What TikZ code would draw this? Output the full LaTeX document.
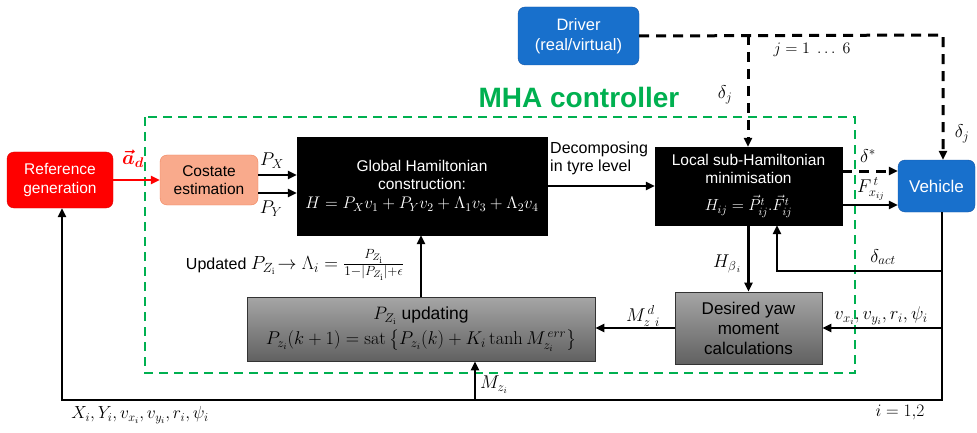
\documentclass[tikz,border=0pt]{standalone}
\usepackage{fix-cm}
\usepackage{amsmath}
\usepackage[no-math]{fontspec}
\setmainfont{Liberation Sans}
\usetikzlibrary{arrows.meta,calc}

\definecolor{refred}{RGB}{255,0,0}
\definecolor{costfill}{RGB}{249,170,140}
\definecolor{costedge}{RGB}{240,130,90}
\definecolor{blockblue}{RGB}{24,112,204}
\definecolor{blueedge}{RGB}{20,85,165}
\definecolor{mhagreen}{RGB}{0,176,80}

% math at a larger size than the surrounding sans text
\newcommand{\bigmath}[2][18.5]{{\fontsize{#1}{20}\selectfont$#2$}}

\tikzset{
  blk/.style={draw, inner sep=2pt, align=center, font=\fontsize{15.5}{18}\selectfont},
  roundblk/.style={blk, rounded corners=7pt},
  blackblk/.style={blk, fill=black, draw=black, text=white},
  grayblk/.style={blk, draw=black!80, line width=0.8pt, top color=black!35, bottom color=black!62, text=black},
  tip/.style={-{Triangle[length=9pt,width=8pt]}},
  arr/.style={line width=2.6pt, tip},
  dsh/.style={line width=3pt, dash pattern=on 10pt off 7pt, tip},
  lbl/.style={font=\fontsize{18.5}{20}\selectfont, inner sep=1pt},
}

\begin{document}
\begin{tikzpicture}[x=1pt,y=-1pt]
\useasboundingbox (0,0) rectangle (977,433);

% controller frame
\draw[mhagreen, line width=2.2pt, dash pattern=on 9pt off 6pt] (145,117) rectangle (855,373);
\node[font=\fontsize{28}{30}\selectfont\bfseries, text=mhagreen] (mha) at (579,97) {MHA controller};

% blocks
\node[roundblk, fill=refred, draw=red!85!black, text=white, minimum width=106pt, minimum height=56pt] (ref) at (60,180) {Reference\\generation};
\node[roundblk, fill=costfill, draw=costedge, minimum width=98pt, minimum height=50pt] (cost) at (209,180) {Costate\\estimation};
\node[blackblk, minimum width=250pt, minimum height=98pt] (glob) at (422,186)
  {Global Hamiltonian\\construction:\\[1pt]\bigmath[16.8]{H = P_X v_1 + P_Y v_2 + \Lambda_1 v_3 + \Lambda_2 v_4}};
\node[blackblk, minimum width=187pt, minimum height=78pt] (loc) at (748.5,186)
  {Local sub-Hamiltonian\\minimisation\\[9pt]\bigmath[16]{H_{ij} = \vec{P}^t_{ij}.\vec{F}^t_{ij}}};
\node[roundblk, fill=blockblue, draw=blueedge, text=white, minimum width=77pt, minimum height=52pt, font=\fontsize{17}{20}\selectfont] (veh) at (936.5,186) {Vehicle};
\node[roundblk, fill=blockblue, draw=blueedge, text=white, minimum width=121pt, minimum height=58pt, font=\fontsize{16.5}{20}\selectfont] (drv) at (578.5,36) {Driver\\(real/virtual)};
\node[grayblk, minimum width=147pt, minimum height=72pt, font=\fontsize{17}{20}\selectfont] (des) at (748.5,328) {Desired yaw\\moment\\calculations};
\node[grayblk, minimum width=348pt, minimum height=64pt, font=\fontsize{17.5}{20}\selectfont] (pz) at (421,329)
  {\bigmath[18]{P_{Z_\mathrm{i}}} updating\\[5pt]\bigmath[18.5]{P_{z_i}(k+1) = \mathrm{sat}\left\{P_{z_i}(k) + K_i \tanh M_{z_i}^{\,err}\right\}}};

% routing points
\coordinate (dj) at (748,35);
\coordinate (dc) at (943,35);
\coordinate (rb) at (942,400);
\coordinate (lb) at (62,400);
\coordinate (da) at (777,271);
\coordinate (mz) at (475,400);
\coordinate (px) at (258,175);
\coordinate (py) at (258,193);
\coordinate (ds) at (842,171);
\coordinate (fx) at (842,205);

% forward path
\draw[arr, red] (ref.east) -- (cost.west);
\draw[arr] (px) -- (px -| glob.west);
\draw[arr] (py) -- (py -| glob.west);
\draw[arr] (glob.east) -- (loc.west);
\draw[dsh] (ds) -- (ds -| veh.west);
\draw[arr] (fx) -- (fx -| veh.west);

% driver inputs
\draw[dsh] (drv.east) -- (dc) -- (dc |- veh.north);
\draw[dsh] (dj) -- (dj |- loc.north);

% feedback paths
\draw[arr] (rb |- veh.south) -- (rb) -- (lb) -- (lb |- ref.south);
\draw[arr] (rb |- da) -- (da) -- (da |- loc.south);
\draw[arr] (loc.south) -- (des.north);
\draw[arr] (rb |- des.east) -- (des.east);
\draw[arr] (des.west) -- (des.west -| pz.east);
\draw[arr] (pz.north) -- (pz.north |- glob.south);
\draw[arr] (mz) -- (mz |- pz.south);

% signal labels
\node[lbl, text=red, font=\fontsize{20}{22}\selectfont] (lad) at (133,159) {$\boldsymbol{\vec{a}_d}$};
\node[lbl] (lpx) at (272,161) {$P_X$};
\node[lbl] (lpy) at (271,209) {$P_Y$};
\node[lbl, font=\fontsize{16}{18}\selectfont, align=left, anchor=west] (ldec) at (549,158) {Decomposing\\in tyre level};
\node[lbl] (lds) at (868,156) {$\delta^*$};
\node[lbl] (lfx) at (871,189) {$F^{\,t}_{x_{ij}}$};
\node[lbl] (ldj) at (725,95) {$\delta_j$};
\node[lbl] (ldj2) at (962,134) {$\delta_j$};
\node[lbl, font=\fontsize{16}{18}\selectfont] (ljj) at (812,50) {$j = 1\ \dots\ 6$};
\node[lbl] (lact) at (883,257) {$\delta_{act}$};
\node[lbl] (lhb) at (727,264) {$H_{\beta_{\,i}}$};
\node[lbl, font=\fontsize{16}{18}\selectfont] (lupd) at (295,265) {Updated \bigmath[19]{P_{Z_\mathrm{i}}\!\rightarrow \Lambda_i = \tfrac{P_{Z_\mathrm{i}}}{1-|P_{Z_\mathrm{i}}|+\epsilon}}};
\node[lbl] (lmd) at (643,316) {$M^{\,d}_{z\ i}$};
\node[lbl] (lv) at (881,316) {$v_{x_i}, v_{y_i}, r_i, \psi_i$};
\node[lbl] (lmz) at (494,385) {$M_{z_i}$};
\node[lbl, font=\fontsize{17.5}{20}\selectfont] (lx) at (140,415) {$X_i, Y_i, v_{x_i}, v_{y_i}, r_i, \psi_i$};
\node[lbl, font=\fontsize{17.5}{20}\selectfont] (li) at (900,412) {$i = 1{,}2$};
\end{tikzpicture}
\end{document}
